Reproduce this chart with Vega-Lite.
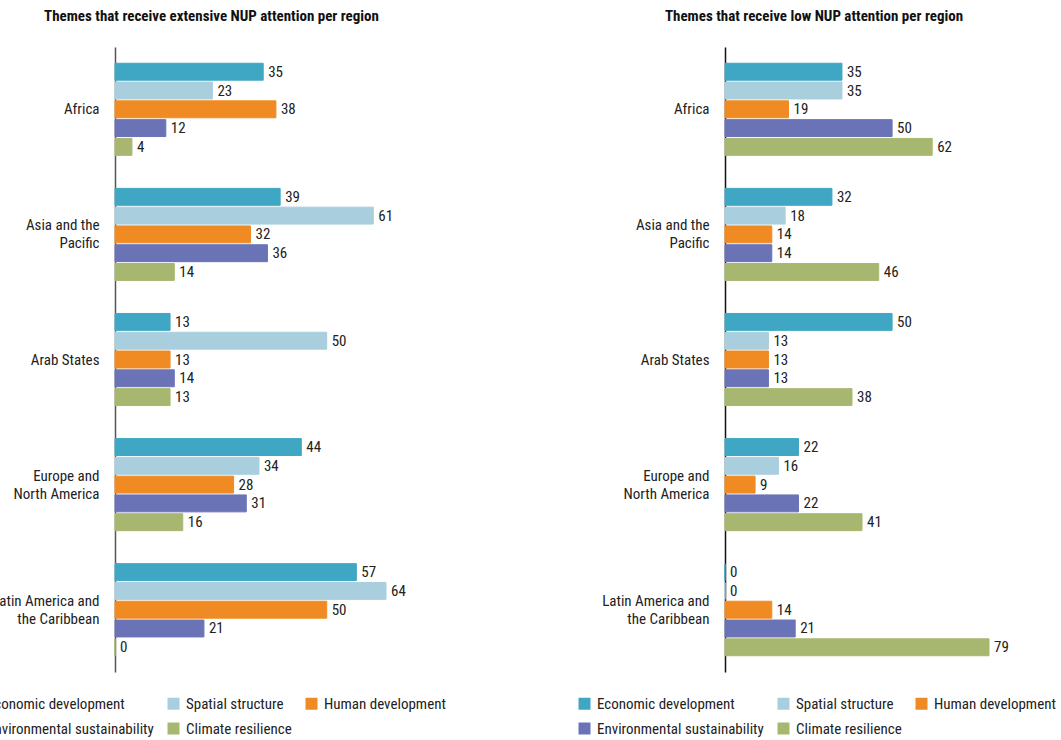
{
  "$schema": "https://vega.github.io/schema/vega-lite/v6.json",
  "padding": {"left": -33, "top": 9, "right": 0, "bottom": 0},
  "bounds": "flush",
  "spacing": 339,
  "config": {
    "font": "Roboto Condensed, Liberation Sans Narrow, Roboto",
    "view": {"stroke": null}
  },
  "resolve": {"scale": {"color": "independent", "stroke": "independent", "y": "independent", "x": "independent"}, "legend": {"color": "independent", "stroke": "independent"}},
  "datasets": {
    "extensive": [
      {"region": "Africa", "theme": "Economic development", "value": 35},
      {"region": "Africa", "theme": "Spatial structure", "value": 23},
      {"region": "Africa", "theme": "Human development", "value": 38},
      {"region": "Africa", "theme": "Environmental sustainability", "value": 12},
      {"region": "Africa", "theme": "Climate resilience", "value": 4},
      {"region": "Asia and the Pacific", "theme": "Economic development", "value": 39},
      {"region": "Asia and the Pacific", "theme": "Spatial structure", "value": 61},
      {"region": "Asia and the Pacific", "theme": "Human development", "value": 32},
      {"region": "Asia and the Pacific", "theme": "Environmental sustainability", "value": 36},
      {"region": "Asia and the Pacific", "theme": "Climate resilience", "value": 14},
      {"region": "Arab States", "theme": "Economic development", "value": 13},
      {"region": "Arab States", "theme": "Spatial structure", "value": 50},
      {"region": "Arab States", "theme": "Human development", "value": 13},
      {"region": "Arab States", "theme": "Environmental sustainability", "value": 14},
      {"region": "Arab States", "theme": "Climate resilience", "value": 13},
      {"region": "Europe and North America", "theme": "Economic development", "value": 44},
      {"region": "Europe and North America", "theme": "Spatial structure", "value": 34},
      {"region": "Europe and North America", "theme": "Human development", "value": 28},
      {"region": "Europe and North America", "theme": "Environmental sustainability", "value": 31},
      {"region": "Europe and North America", "theme": "Climate resilience", "value": 16},
      {"region": "Latin America and the Caribbean", "theme": "Economic development", "value": 57},
      {"region": "Latin America and the Caribbean", "theme": "Spatial structure", "value": 64},
      {"region": "Latin America and the Caribbean", "theme": "Human development", "value": 50},
      {"region": "Latin America and the Caribbean", "theme": "Environmental sustainability", "value": 21},
      {"region": "Latin America and the Caribbean", "theme": "Climate resilience", "value": 0}
    ],
    "low": [
      {"region": "Africa", "theme": "Economic development", "value": 35},
      {"region": "Africa", "theme": "Spatial structure", "value": 35},
      {"region": "Africa", "theme": "Human development", "value": 19},
      {"region": "Africa", "theme": "Environmental sustainability", "value": 50},
      {"region": "Africa", "theme": "Climate resilience", "value": 62},
      {"region": "Asia and the Pacific", "theme": "Economic development", "value": 32},
      {"region": "Asia and the Pacific", "theme": "Spatial structure", "value": 18},
      {"region": "Asia and the Pacific", "theme": "Human development", "value": 14},
      {"region": "Asia and the Pacific", "theme": "Environmental sustainability", "value": 14},
      {"region": "Asia and the Pacific", "theme": "Climate resilience", "value": 46},
      {"region": "Arab States", "theme": "Economic development", "value": 50},
      {"region": "Arab States", "theme": "Spatial structure", "value": 13},
      {"region": "Arab States", "theme": "Human development", "value": 13},
      {"region": "Arab States", "theme": "Environmental sustainability", "value": 13},
      {"region": "Arab States", "theme": "Climate resilience", "value": 38},
      {"region": "Europe and North America", "theme": "Economic development", "value": 22},
      {"region": "Europe and North America", "theme": "Spatial structure", "value": 16},
      {"region": "Europe and North America", "theme": "Human development", "value": 9},
      {"region": "Europe and North America", "theme": "Environmental sustainability", "value": 22},
      {"region": "Europe and North America", "theme": "Climate resilience", "value": 41},
      {"region": "Latin America and the Caribbean", "theme": "Economic development", "value": 0},
      {"region": "Latin America and the Caribbean", "theme": "Spatial structure", "value": 0},
      {"region": "Latin America and the Caribbean", "theme": "Human development", "value": 14},
      {"region": "Latin America and the Caribbean", "theme": "Environmental sustainability", "value": 21},
      {"region": "Latin America and the Caribbean", "theme": "Climate resilience", "value": 79}
    ]
  },
  "hconcat": [
    {
      "title": {"text": "Themes that receive extensive NUP attention per region", "fontSize": 15, "fontWeight": "bold", "color": "#111", "offset": 23, "frame": "group", "dx": -39},
      "width": 271,
      "height": 625,
      "data": {"name": "extensive"},
      "encoding": {
        "y": {"field": "region", "type": "nominal", "sort": ["Africa", "Asia and the Pacific", "Arab States", "Europe and North America", "Latin America and the Caribbean"],
          "scale": {"paddingInner": 0.264, "paddingOuter": 0.13},
          "axis": {"title": null, "ticks": false, "domainColor": "#555", "domainWidth": 1.5, "labelFontSize": 15, "labelColor": "#222", "labelPadding": 16, "labelLineHeight": 18,
            "labelOffset": {"condition": {"test": "length(datum.value) > 12", "value": -9}, "value": 0},
            "labelExpr": "datum.label == 'Asia and the Pacific' ? ['Asia and the', 'Pacific'] : datum.label == 'Europe and North America' ? ['Europe and', 'North America'] : datum.label == 'Latin America and the Caribbean' ? ['Latin America and', 'the Caribbean'] : datum.label"}},
        "yOffset": {"field": "theme", "type": "nominal", "sort": ["Economic development", "Spatial structure", "Human development", "Environmental sustainability", "Climate resilience"], "scale": {"paddingInner": 0.1}},
        "x": {"field": "value", "type": "quantitative", "scale": {"domain": [0, 64], "nice": false}, "axis": null}
      },
      "layer": [
        {"mark": {"type": "bar", "strokeWidth": 1},
          "encoding": {
            "color": {"field": "theme", "type": "nominal",
              "scale": {"domain": ["Economic development", "Spatial structure", "Human development", "Environmental sustainability", "Climate resilience"], "range": ["#3fa7c3", "#a9cfde", "#f08a22", "#6b73b7", "#a8b770"]},
              "legend": {"title": null, "orient": "none", "legendX": -148, "legendY": 649, "direction": "horizontal",
                "columns": 3, "columnPadding": 12, "rowPadding": 9,
                "symbolType": "square", "symbolSize": 144, "symbolStrokeWidth": 0,
                "labelFontSize": 15, "labelColor": "#222", "labelOffset": 5, "padding": 0, "labelLimit": 300}},
            "stroke": {"field": "theme", "type": "nominal",
              "scale": {"domain": ["Economic development", "Spatial structure", "Human development", "Environmental sustainability", "Climate resilience"], "range": ["#3fa7c3", "#a9cfde", "#f08a22", "#6b73b7", "#a8b770"]}}
          }},
        {"mark": {"type": "text", "align": "left", "baseline": "middle", "dx": 5, "fontSize": 15, "color": "#222"},
          "encoding": {"text": {"field": "value", "type": "quantitative"}}}
      ]
    },
    {
      "title": {"text": "Themes that receive low NUP attention per region", "fontSize": 15, "fontWeight": "bold", "color": "#111", "offset": 23, "frame": "group", "dx": -43},
      "width": 264,
      "height": 625,
      "data": {"name": "low"},
      "encoding": {
        "y": {"field": "region", "type": "nominal", "sort": ["Africa", "Asia and the Pacific", "Arab States", "Europe and North America", "Latin America and the Caribbean"],
          "scale": {"paddingInner": 0.264, "paddingOuter": 0.13},
          "axis": {"title": null, "ticks": false, "domainColor": "#111", "domainWidth": 1.5, "labelFontSize": 15, "labelColor": "#222", "labelPadding": 16, "labelLineHeight": 18,
            "labelOffset": {"condition": {"test": "length(datum.value) > 12", "value": -9}, "value": 0},
            "labelExpr": "datum.label == 'Asia and the Pacific' ? ['Asia and the', 'Pacific'] : datum.label == 'Europe and North America' ? ['Europe and', 'North America'] : datum.label == 'Latin America and the Caribbean' ? ['Latin America and', 'the Caribbean'] : datum.label"}},
        "yOffset": {"field": "theme", "type": "nominal", "sort": ["Economic development", "Spatial structure", "Human development", "Environmental sustainability", "Climate resilience"], "scale": {"paddingInner": 0.1}},
        "x": {"field": "value", "type": "quantitative", "scale": {"domain": [0, 79], "nice": false}, "axis": null}
      },
      "layer": [
        {"mark": {"type": "bar", "strokeWidth": 1},
          "encoding": {
            "color": {"field": "theme", "type": "nominal",
              "scale": {"domain": ["Economic development", "Spatial structure", "Human development", "Environmental sustainability", "Climate resilience"], "range": ["#3fa7c3", "#a9cfde", "#f08a22", "#6b73b7", "#a8b770"]},
              "legend": {"title": null, "orient": "none", "legendX": -148, "legendY": 649, "direction": "horizontal",
                "columns": 3, "columnPadding": 12, "rowPadding": 9,
                "symbolType": "square", "symbolSize": 144, "symbolStrokeWidth": 0,
                "labelFontSize": 15, "labelColor": "#222", "labelOffset": 5, "padding": 0, "labelLimit": 300}},
            "stroke": {"field": "theme", "type": "nominal",
              "scale": {"domain": ["Economic development", "Spatial structure", "Human development", "Environmental sustainability", "Climate resilience"], "range": ["#3fa7c3", "#a9cfde", "#f08a22", "#6b73b7", "#a8b770"]}}
          }},
        {"mark": {"type": "text", "align": "left", "baseline": "middle", "dx": 5, "fontSize": 15, "color": "#222"},
          "encoding": {"text": {"field": "value", "type": "quantitative"}}}
      ]
    }
  ]
}
